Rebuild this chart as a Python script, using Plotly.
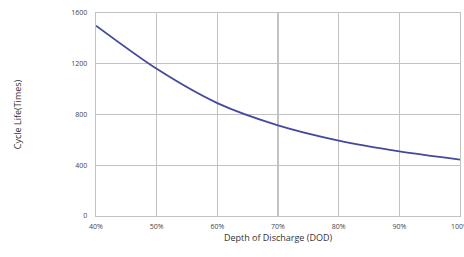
import plotly.graph_objects as go

dod = [40, 50, 60, 70, 80, 90, 100]
cycles = [1500, 1160, 890, 715, 595, 510, 445]
x_ticks = [40, 50, 60, 70, 80, 90, 100]
x_tick_labels = ["40%", "50%", "60%", "70%", "80%", "90%", "100%"]
y_ticks = [0, 400, 800, 1200, 1600]

fig = go.Figure()
fig.add_trace(go.Scatter(
    x=dod, y=cycles, mode="lines",
    line=dict(color="#434a9c", width=1.8, shape="spline", smoothing=0.8),
    hoverinfo="skip", showlegend=False,
))

grid = "#c2c2c2"
fig.update_layout(
    width=464, height=257,
    margin=dict(l=96, r=4, t=13, b=41),
    paper_bgcolor="white", plot_bgcolor="white",
    font=dict(family="Open Sans, Noto Sans, sans-serif", color="#333"),
    xaxis=dict(
        range=[40, 100], tickvals=x_ticks, ticktext=x_tick_labels,
        showgrid=True, gridcolor=grid, gridwidth=1.3,
        showline=True, linecolor=grid, linewidth=1.3, mirror=True,
        zeroline=False, ticks="",
        tickfont=dict(size=7, color="#444"),
        ticklabeloverflow="allow",
        ticklabelstandoff=3,
        title=dict(text="Depth of Discharge (DOD)", font=dict(size=9, color="#333"), standoff=4),
        automargin=False,
    ),
    yaxis=dict(
        range=[0, 1600], tickvals=y_ticks,
        showgrid=True, gridcolor=grid, gridwidth=1.3,
        showline=True, linecolor=grid, linewidth=1.3, mirror=True,
        zeroline=False, ticks="",
        tickfont=dict(size=7, color="#444"),
        ticklabelstandoff=6,
        title=dict(text="Cycle Life(Times)", font=dict(size=9, color="#333"), standoff=48),
        automargin=False,
    ),
)

fig.write_html(
    "out.html",
    config={"displayModeBar": False, "staticPlot": True},
    post_script="document.body.style.margin='0px';document.body.style.overflow='hidden';",
)
